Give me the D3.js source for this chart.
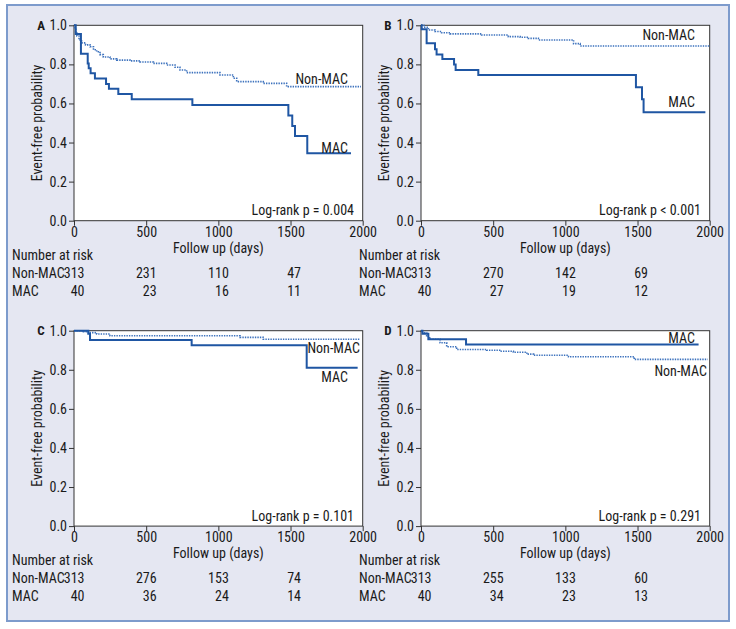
<!DOCTYPE html>
<html><head><meta charset="utf-8">
<script src="https://cdn.jsdelivr.net/npm/d3@7"></script>
<style>
body{margin:0;background:#fff;}
text{font-family:Roboto,sans-serif;font-stretch:condensed;font-size:14px;fill:#1a1a1a;}
</style></head>
<body><svg id="c" width="736" height="629"></svg>
<script>
// ---------- DATA ----------
const panelLetters = ["A", "B", "C", "D"];
const pValueTexts = ["Log-rank p = 0.004", "Log-rank p < 0.001", "Log-rank p = 0.101", "Log-rank p = 0.291"];
const xTicks = [0, 500, 1000, 1500, 2000];
const yTicks = [0, 0.2, 0.4, 0.6, 0.8, 1.0];
const riskTimes = [0, 500, 1000, 1500];
const groupNames = ["Non-MAC", "MAC"];

// Panel A
const A_mac_t = [0, 12, 48, 95, 102, 115, 145, 222, 242, 307, 400, 820, 1485, 1512, 1531, 1616, 1919];
const A_mac_s = [1.0, 0.955, 0.855, 0.805, 0.78, 0.755, 0.728, 0.70, 0.675, 0.648, 0.622, 0.592, 0.538, 0.485, 0.433, 0.345, 0.345];
const A_non_t = [0, 5, 12, 20, 35, 53, 80, 111, 135, 157, 180, 203, 249, 296, 388, 457, 550, 642, 700, 734, 780, 1011, 1104, 1127, 1311, 1473, 1988];
const A_non_s = [1.0, 0.98, 0.96, 0.945, 0.925, 0.91, 0.90, 0.89, 0.875, 0.865, 0.85, 0.838, 0.828, 0.822, 0.818, 0.812, 0.805, 0.797, 0.785, 0.771, 0.758, 0.746, 0.729, 0.712, 0.703, 0.686, 0.686];
// Panel B
const B_mac_t = [0, 5, 39, 97, 108, 148, 229, 240, 397, 1489, 1531, 1542, 1970];
const B_mac_s = [1.0, 0.98, 0.908, 0.877, 0.85, 0.828, 0.80, 0.771, 0.746, 0.683, 0.621, 0.555, 0.555];
const B_non_t = [0, 20, 51, 97, 143, 201, 420, 605, 687, 744, 813, 1057, 1103, 2000];
const B_non_s = [1.0, 0.99, 0.976, 0.968, 0.962, 0.956, 0.95, 0.942, 0.939, 0.933, 0.925, 0.906, 0.894, 0.894];
// Panel C
const C_mac_t = [0, 99, 111, 815, 1612, 1965];
const C_mac_s = [1.0, 0.985, 0.952, 0.926, 0.81, 0.81];
const C_non_t = [0, 65, 100, 157, 249, 1150, 1311, 1981];
const C_non_s = [1.0, 0.995, 0.99, 0.983, 0.974, 0.966, 0.956, 0.956];
// Panel D
const D_mac_t = [0, 10, 51, 312, 1923];
const D_mac_s = [1.0, 0.985, 0.956, 0.93, 0.93];
const D_non_t = [0, 12, 39, 60, 132, 178, 247, 455, 550, 640, 733, 780, 1022, 1477, 1986];
const D_non_s = [1.0, 0.99, 0.97, 0.956, 0.938, 0.918, 0.904, 0.90, 0.895, 0.89, 0.88, 0.874, 0.867, 0.853, 0.853];

// Numbers at risk
const A_risk_non = [313, 231, 110, 47], A_risk_mac = [40, 23, 16, 11];
const B_risk_non = [313, 270, 142, 69], B_risk_mac = [40, 27, 19, 12];
const C_risk_non = [313, 276, 153, 74], C_risk_mac = [40, 36, 24, 14];
const D_risk_non = [313, 255, 133, 60], D_risk_mac = [40, 34, 23, 13];

// ---------- BUILD ----------
const panels = [
  {mac: [A_mac_t, A_mac_s], non: [A_non_t, A_non_s], risk: [A_risk_non, A_risk_mac]},
  {mac: [B_mac_t, B_mac_s], non: [B_non_t, B_non_s], risk: [B_risk_non, B_risk_mac]},
  {mac: [C_mac_t, C_mac_s], non: [C_non_t, C_non_s], risk: [C_risk_non, C_risk_mac]},
  {mac: [D_mac_t, D_mac_s], non: [D_non_t, D_non_s], risk: [D_risk_non, D_risk_mac]}
];
// layout (pixels)
const origins = [[74, 25.3], [421, 25.3], [74, 330.7], [421, 330.7]];
const PW = 288.7, PH = 195.4;
// curve label placement: [x(right edge), y(center)] relative to plot
const labelPos = [
  {non: [274, 54], mac: [274, 123]},
  {non: [274, 10], mac: [274, 77]},
  {non: [286, 17], mac: [274, 46]},
  {non: [286, 40], mac: [274, 7]}
];
const FONT = "Roboto,sans-serif";

const svg = d3.select("#c");
svg.append("rect").attr("x", 7).attr("y", 5).attr("width", 722).attr("height", 616)
  .attr("fill", "#e5e7f2").attr("stroke", "#7d9bcc").attr("stroke-width", 2);

const x = d3.scaleLinear().domain([0, 2000]).range([0, PW]);
const y = d3.scaleLinear().domain([0, 1]).range([PH, 0]);
const line = d3.line().x(d => x(d[0])).y(d => y(d[1])).curve(d3.curveStepAfter);

panels.forEach((p, i) => {
  const g = svg.append("g").attr("transform", `translate(${origins[i][0]},${origins[i][1]})`);
  g.append("rect").attr("width", PW).attr("height", PH).attr("fill", "#fff");

  const xa = g.append("g").attr("transform", `translate(0,${PH})`)
    .call(d3.axisBottom(x).tickValues(xTicks).tickSize(5).tickPadding(1).tickFormat(d3.format("d")));
  const ya = g.append("g").call(d3.axisLeft(y).tickValues(yTicks).tickSize(5).tickPadding(2).tickFormat(d3.format(".1f")));
  [xa, ya].forEach(a => {
    a.select(".domain").remove();
    a.selectAll("line").attr("stroke", "#333");
    a.selectAll("text").style("font-size", "14px").attr("fill", "#1a1a1a")
      .style("font-family", FONT).style("font-stretch", "condensed");
  });
  g.append("rect").attr("width", PW).attr("height", PH).attr("fill", "none")
    .attr("stroke", "#333").attr("stroke-width", 1);

  const nonData = p.non[0].map((t, k) => [t, p.non[1][k]]);
  const macData = p.mac[0].map((t, k) => [t, p.mac[1][k]]);
  g.append("path").datum(nonData).attr("d", line).attr("fill", "none")
    .attr("stroke", "#3d72bd").attr("stroke-width", 1.6).attr("stroke-dasharray", "1.4,1.1");
  g.append("path").datum(macData).attr("d", line).attr("fill", "none")
    .attr("stroke", "#1f56a3").attr("stroke-width", 2);

  const lp = labelPos[i];
  g.append("text").attr("x", lp.non[0]).attr("y", lp.non[1]).attr("dy", "0.35em")
    .attr("text-anchor", "end").text(groupNames[0]);
  g.append("text").attr("x", lp.mac[0]).attr("y", lp.mac[1]).attr("dy", "0.35em")
    .attr("text-anchor", "end").text(groupNames[1]);
  g.append("text").attr("x", 280).attr("y", 185).attr("dy", "0.35em")
    .attr("text-anchor", "end").text(pValueTexts[i]);

  g.append("text").attr("x", -33).attr("y", 0).attr("dy", "0.35em").attr("text-anchor", "middle")
    .style("font-weight", "bold").style("font-size", "13px").text(panelLetters[i]);
  g.append("text").attr("transform", `translate(-32,${PH / 2}) rotate(-90)`)
    .attr("text-anchor", "middle").text("Event-free probability");
  g.append("text").attr("x", PW / 2).attr("y", PH + 27).attr("dy", "0.35em")
    .attr("text-anchor", "middle").text("Follow up (days)");

  // risk table
  g.append("text").attr("x", -62).attr("y", PH + 34.5).attr("dy", "0.35em").text("Number at risk");
  const rowY = [PH + 52.5, PH + 70];
  groupNames.forEach((nm, r) => {
    g.append("text").attr("x", -62).attr("y", rowY[r]).attr("dy", "0.35em").text(nm);
    g.selectAll(null).data(p.risk[r]).enter().append("text")
      .attr("x", (d, k) => x(riskTimes[k]) + 10.5).attr("y", rowY[r]).attr("dy", "0.35em")
      .attr("text-anchor", "end").text(d => d);
  });
});
</script></body></html>
